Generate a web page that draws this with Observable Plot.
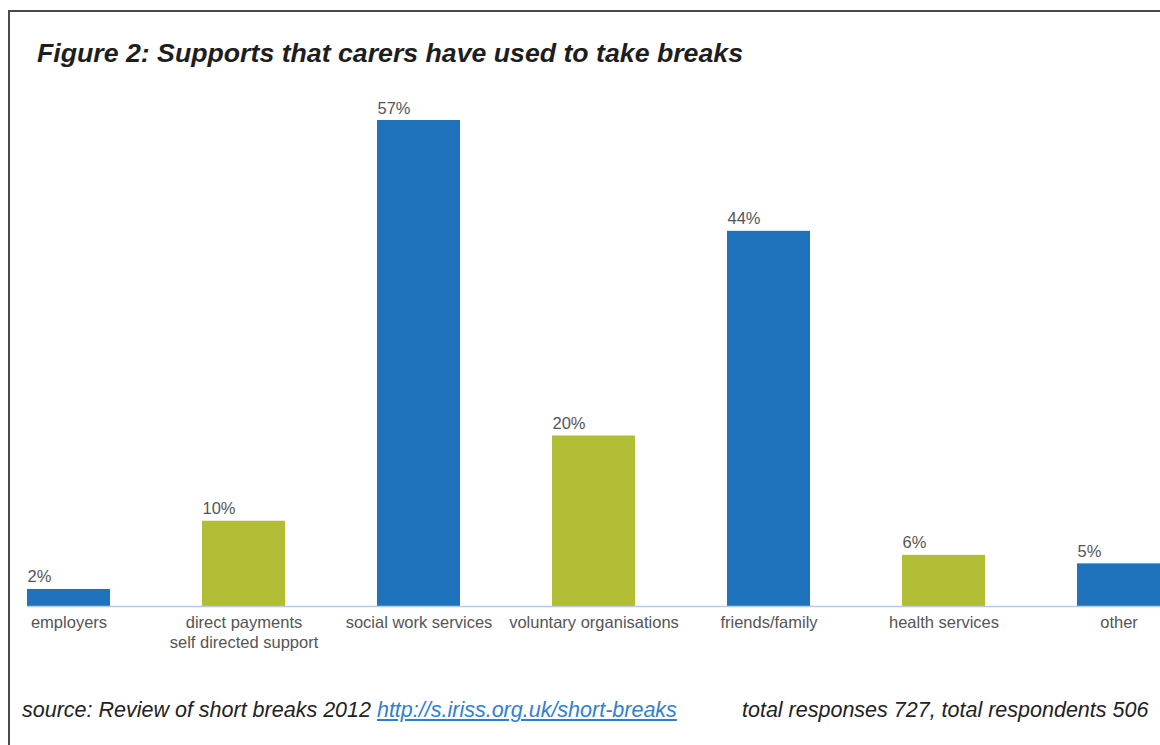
<!DOCTYPE html>
<html>
<head>
<meta charset="utf-8">
<script src="https://cdn.jsdelivr.net/npm/d3@7"></script>
<script src="https://cdn.jsdelivr.net/npm/@observablehq/plot@0.6"></script>
<style>
  html, body { margin: 0; padding: 0; background: #fff; }
  #wrap { position: relative; width: 1160px; height: 745px; overflow: hidden; font-family: "Liberation Sans", Arial, sans-serif; }
  #frame { position: absolute; left: 8px; top: 10px; width: 1200px; height: 800px; border-left: 2px solid #4a4a4a; border-top: 2px solid #4a4a4a; }
  #title { position: absolute; left: 37px; top: 38px; font-size: 26.7px; font-weight: bold; font-style: italic; color: #1e1e1e; white-space: nowrap; }
  #chart { position: absolute; left: 0; top: 0; }
  .cap { position: absolute; top: 698px; font-size: 21.5px; font-style: italic; color: #222; white-space: nowrap; }
  .cap a { color: #2f7fd0; text-decoration: underline; }
</style>
</head>
<body>
<div id="wrap">
  <div id="frame"></div>
  <div id="title">Figure 2: Supports that carers have used to take breaks</div>
  <div id="chart"></div>
  <div class="cap" style="left:22px">source: Review of short breaks 2012 <a href="http://s.iriss.org.uk/short-breaks">http://s.iriss.org.uk/short-breaks</a></div>
  <div class="cap" style="left:742px">total responses 727, total respondents 506</div>
</div>
<script>
const categories = ["employers", "direct payments\nself directed support", "social work services", "voluntary organisations", "friends/family", "health services", "other"];
const values = [2, 10, 57, 20, 44, 6, 5];
const colorGroup = ["primary", "secondary", "primary", "secondary", "primary", "secondary", "primary"];
const valueLabels = ["2%", "10%", "57%", "20%", "44%", "6%", "5%"];

const data = categories.map((c, i) => ({category: c, value: values[i], group: colorGroup[i], label: valueLabels[i]}));

const chart = Plot.plot({
  width: 1160,
  height: 690,
  marginLeft: 27,
  marginRight: 0,
  marginTop: 0,
  marginBottom: 0,
  style: {background: "transparent", fontFamily: "'Liberation Sans', Arial, sans-serif"},
  x: {type: "band", domain: categories, range: [27, 1160], paddingInner: 0.526, paddingOuter: 0, axis: null},
  y: {domain: [0, 57], range: [606, 120], axis: null},
  color: {type: "ordinal", domain: ["primary", "secondary"], range: ["#1f73bc", "#b2bd36"]},
  marks: [
    Plot.barY(data, {x: "category", y: "value", fill: "group"}),
    Plot.ruleY([0], {stroke: "#b7cbe6", strokeWidth: 1.5}),
    Plot.text(data, {x: "category", y: "value", text: "label", textAnchor: "start", dx: -41.5, dy: -7, lineAnchor: "bottom", fontSize: 16.5, fill: "#555"}),
    Plot.text(data, {x: "category", y: 0, text: "category", lineAnchor: "top", dy: 7, fontSize: 16.5, lineHeight: 1.22, fill: "#555"})
  ]
});
document.getElementById("chart").appendChild(chart);
</script>
</body>
</html>
